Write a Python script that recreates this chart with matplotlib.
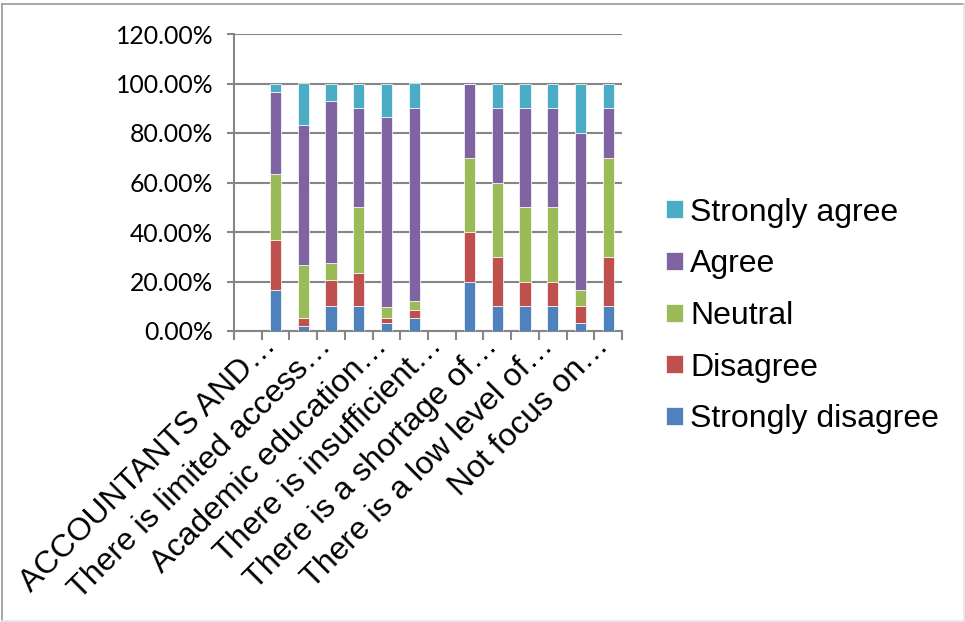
import numpy as np
import matplotlib
matplotlib.use("Agg")
import matplotlib.pyplot as plt
from matplotlib.lines import Line2D
from matplotlib.ticker import FuncFormatter, FixedLocator
import matplotlib.transforms as mtransforms

# Survey items (only every other label is shown on the axis; header rows carry no answers)
categories = [
    "ACCOUNTANTS AND…", "",
    "There is limited access…", "",
    "Academic education…", "",
    "There is insufficient…", "",
    "There is a shortage of…", "",
    "There is a low level of…", "",
    "Not focus on…", "",
]

# Share of answers per item, in percent (None = header row without answers)
strongly_disagree = [None, 16.7, 1.9, 10.0, 10.0, 3.3, 5.3, None, 20.0, 10.0, 10.0, 10.0, 3.3, 10.0]
disagree = [None, 20.0, 3.5, 10.5, 13.3, 2.0, 3.3, None, 20.0, 20.0, 10.0, 10.0, 6.7, 20.0]
neutral = [None, 26.7, 21.2, 6.8, 26.7, 4.4, 3.5, None, 30.0, 30.0, 30.0, 30.0, 6.7, 40.0]
agree = [None, 33.3, 56.7, 65.8, 40.0, 76.8, 77.8, None, 30.0, 30.0, 40.0, 40.0, 63.3, 20.0]
strongly_agree = [None, 3.3, 16.7, 6.7, 10.0, 13.5, 10.1, None, 0.0, 10.0, 10.0, 10.0, 20.0, 10.0]

series_names = ["Strongly disagree", "Disagree", "Neutral", "Agree", "Strongly agree"]
series_values = [strongly_disagree, disagree, neutral, agree, strongly_agree]
colors = ["#4F81BD", "#C0504D", "#9BBB59", "#8064A2", "#4BACC6"]

y_ticks = [0, 20, 40, 60, 80, 100, 120]

W, H = 965, 622
fig = plt.figure(figsize=(W / 100, H / 100), dpi=100)
fig.patch.set_facecolor("white")

ax = fig.add_axes([234 / W, 1 - 331 / H, (622 - 234) / W, (331 - 34) / H])

grid_col = "#868686"
n = len(categories)
x = np.arange(n)
has_data = np.array([v is not None for v in strongly_disagree])
xs = x[has_data]
bottom = np.zeros(has_data.sum())
handles = []
for name, vals, col in zip(series_names, series_values, colors):
    v = np.array([vals[i] for i in range(n) if has_data[i]], dtype=float)
    b = ax.bar(xs, v, width=0.4, bottom=bottom, color=col, edgecolor="white",
               linewidth=0.5, label=name, zorder=3)
    handles.append(b)
    bottom += v

ax.set_xlim(-0.5, n - 0.5)
ax.set_ylim(0, 120)

# y axis: percentage labels and gridlines
ax.yaxis.set_major_locator(FixedLocator(y_ticks))
ax.yaxis.set_major_formatter(FuncFormatter(lambda v, p: f"{v:.2f}%"))
ax.tick_params(axis="y", direction="out", length=5, width=1.5, color=grid_col,
               pad=10, labelsize=17.8, labelcolor="black")
for lab in ax.get_yticklabels():
    lab.set_fontfamily("Lato")
ax.grid(axis="y", color=grid_col, linewidth=1.5, zorder=0)
ax.set_axisbelow(True)

# x axis: ticks on category boundaries, rotated labels placed by hand
ax.xaxis.set_major_locator(FixedLocator(np.arange(-0.5, n, 1.0)))
ax.set_xticklabels([])
ax.tick_params(axis="x", direction="out", length=6.5, width=1.5, color=grid_col)

for s in ["top", "right"]:
    ax.spines[s].set_visible(False)
for s in ["left", "bottom"]:
    ax.spines[s].set_color(grid_col)
    ax.spines[s].set_linewidth(1.5)

offset = mtransforms.ScaledTranslation(29.5 / 100, -16 / 100, fig.dpi_scale_trans)
for i, lab in enumerate(categories):
    if lab:
        ax.text(i, 0, lab, transform=ax.get_xaxis_transform() + offset,
                rotation=45, rotation_mode="anchor", ha="right", va="baseline",
                fontsize=23, family="Liberation Sans", color="black")

leg = ax.legend(handles[::-1], series_names[::-1], loc="center left",
                bbox_to_anchor=(666 / W, 1 - 316 / H), bbox_transform=fig.transFigure,
                frameon=False, prop={"family": "Liberation Sans", "size": 23},
                handlelength=0.53, handleheight=0.5, handletextpad=0.22,
                labelspacing=0.68, borderpad=0, borderaxespad=0)

# chart border
fig.add_artist(Line2D([2 / W, 2 / W], [1 - 3.5 / H, 1 - 621 / H], transform=fig.transFigure,
                      color="#9a9a9a", linewidth=1.2))
fig.add_artist(Line2D([2 / W, 963.5 / W], [1 - 3.5 / H, 1 - 3.5 / H], transform=fig.transFigure,
                      color="#9a9a9a", linewidth=1.2))
fig.add_artist(Line2D([963.5 / W, 963.5 / W], [1 - 3.5 / H, 1 - 621 / H], transform=fig.transFigure,
                      color="#e4e4e4", linewidth=1.2))
fig.add_artist(Line2D([2 / W, 963.5 / W], [1 - 621 / H, 1 - 621 / H], transform=fig.transFigure,
                      color="#e4e4e4", linewidth=1.2))

fig.savefig("out.png", dpi=100)
